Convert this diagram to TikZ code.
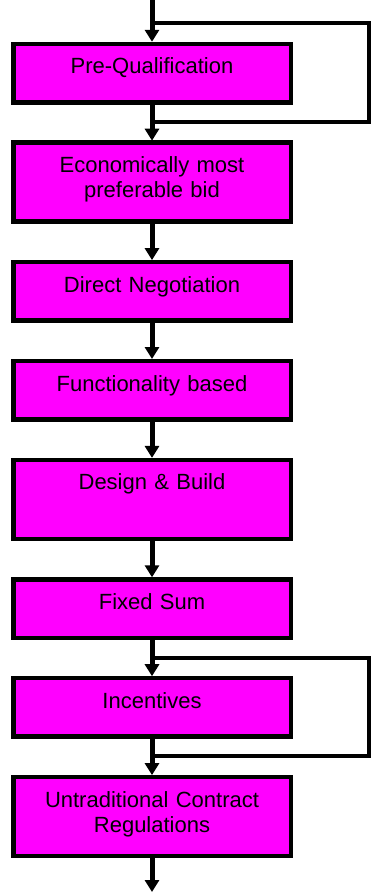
\documentclass[tikz,border=0pt]{standalone}
\usepackage{fontspec}
\setmainfont{Liberation Sans}
\usepackage{xcolor}
\usepackage{tikz}
\usetikzlibrary{arrows.meta,positioning}
\definecolor{stagefill}{RGB}{255,0,255}

\begin{document}
\begin{tikzpicture}[
        x=1pt, y=1pt,
        node distance=40.4pt,
        stage/.style={rectangle, draw=black, fill=stagefill, line width=4.5pt, outer sep=0pt, inner sep=0pt, text width=277.5pt, align=center, text height=30pt, text depth=28.5pt, font=\fontsize{22}{25}\selectfont},
        tall/.style={text depth=49pt},
        arrow/.style={-{Triangle[length=12pt,width=14pt]}, line width=5pt, shorten >=2pt},
        bypass/.style={line width=4pt}
    ]
        \useasboundingbox (0,0) rectangle (371,-895);

        % Procurement stages
        \node[stage, anchor=north] (prequal) at (152,-43.8) {Pre-Qualification};
        \node[stage, tall, below=of prequal] (econ) {Economically most\\preferable bid};
        \node[stage, below=of econ] (direct) {Direct Negotiation};
        \node[stage, below=of direct] (func) {Functionality based};
        \node[stage, tall, below=of func] (design) {Design \& Build};
        \node[stage, below=of design] (fixed) {Fixed Sum};
        \node[stage, below=of fixed] (incent) {Incentives};
        \node[stage, tall, below=of incent] (untrad) {Untraditional Contract\\Regulations};

        % Free ends
        \coordinate (start) at (152,0);
        \coordinate (finish) at (152,-894);
        \coordinate (rim) at (369,0);

        % Arrows - main flow
        \draw[arrow] (start) -- (prequal);
        \draw[arrow] (prequal) -- (econ);
        \draw[arrow] (econ) -- (direct);
        \draw[arrow] (direct) -- (func);
        \draw[arrow] (func) -- (design);
        \draw[arrow] (design) -- (fixed);
        \draw[arrow] (fixed) -- (incent);
        \draw[arrow] (incent) -- (untrad);
        \draw[arrow] (untrad) -- (finish);

        % Bypass lines
        \coordinate[above=20.7pt of prequal] (skipa);
        \coordinate[above=20.7pt of econ] (skipb);
        \coordinate[above=20.7pt of incent] (skipc);
        \coordinate[above=20.7pt of untrad] (skipd);
        \draw[bypass] (skipa) -- (skipa -| rim) -- (skipb -| rim) -- (skipb);
        \draw[bypass] (skipc) -- (skipc -| rim) -- (skipd -| rim) -- (skipd);
    \end{tikzpicture}
\end{document}
